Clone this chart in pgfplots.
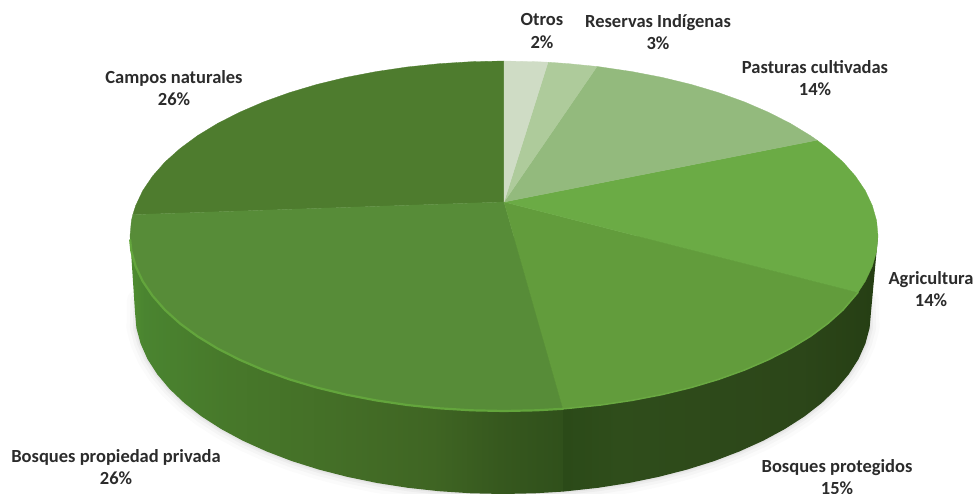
\documentclass[border=0pt]{standalone}
\usepackage{fontspec}
\setmainfont{Carlito}
\usepackage{pgfplots}
\usepackage{pgfplotstable}
\pgfplotsset{compat=1.18}

% Palette of the pie
\definecolor{cOtros}{HTML}{CFDCC5}
\definecolor{cReservas}{HTML}{AECB9B}
\definecolor{cPasturas}{HTML}{93BA7D}
\definecolor{cAgri}{HTML}{6BAB45}
\definecolor{cProt}{HTML}{629C3C}
\definecolor{cPriv}{HTML}{578C38}
\definecolor{cCampos}{HTML}{4E7C2E}
\definecolor{rimL}{HTML}{63A53C}
\definecolor{rimR}{HTML}{6AA942}
\definecolor{wA}{HTML}{4F8D30}
\definecolor{wB}{HTML}{4A8430}
\definecolor{wC}{HTML}{47782A}
\definecolor{wD}{HTML}{446F27}
\definecolor{wE}{HTML}{3F6523}
\definecolor{wF}{HTML}{36581E}
\definecolor{wG}{HTML}{30501B}
\definecolor{wH}{HTML}{2B4A18}
\definecolor{wI}{HTML}{2F4D1B}
\definecolor{wJ}{HTML}{2C4619}
\definecolor{wK}{HTML}{263F14}
\definecolor{labelink}{HTML}{2B2B2B}

% Side wall of the disc, lit from the left
\pgfdeclarehorizontalshading{wallleft}{100bp}{color(0bp)=(wA); color(25bp)=(wA); color(26.7bp)=(wB); color(36.5bp)=(wC); color(48.1bp)=(wD); color(60bp)=(wE); color(67.7bp)=(wF); color(75bp)=(wG); color(100bp)=(wG)}
\pgfdeclarehorizontalshading{wallright}{100bp}{color(0bp)=(wH); color(25bp)=(wH); color(34bp)=(wI); color(62.6bp)=(wJ); color(73.9bp)=(wK); color(100bp)=(wK)}

% Shares: Otros 2, Reservas 3, Pasturas 14, Agricultura 14, Protegidos 15, Privada 26, Campos 26
\pgfplotstableread{
x y
504 202
504 61
536.6 61.7
548 62.2
}\otros
\pgfplotstableread{
x y
504 202
548 62.2
568.9 63.7
597 66.5
}\reservas
\pgfplotstableread{
x y
504 202
597 66.5
600.8 67
631.9 71.6
662.1 77.4
691 84.4
718.5 92.6
744.4 101.9
768.5 112.3
790.5 123.5
810.4 135.6
817 140.2
}\pasturas
\pgfplotstableread{
x y
504 202
817 140.2
827.9 148.5
843 162
855.4 176.1
865.3 190.7
872.3 205.6
876.6 220.7
878 236
876.6 251.3
872.3 266.4
865.3 281.3
858 292.5
}\agricultura
\pgfplotstableread{
x y
504 202
858 292.5
843 310
827.9 323.5
810.4 336.4
790.5 348.5
768.5 359.7
744.4 370.1
718.5 379.4
691 387.6
662.1 394.6
631.9 400.4
600.8 405
568.9 408.3
563 408.8
}\protegidos
\pgfplotstableread{
x y
504 202
563 408.8
536.6 410.3
504 411
471.4 410.3
439.1 408.3
407.2 405
376.1 400.4
345.9 394.6
317 387.6
289.5 379.4
263.6 370.1
239.5 359.7
217.5 348.5
197.6 336.4
180.1 323.6
165 310
152.6 295.9
142.7 281.3
135.7 266.4
131.4 251.3
130 236
131.4 220.7
132.8 214.7
}\privada
\pgfplotstableread{
x y
504 202
132.8 214.7
135.7 205.6
142.7 190.7
152.6 176.1
165 162
180.1 148.5
197.6 135.6
217.5 123.5
239.5 112.3
263.6 101.9
289.5 92.6
317 84.4
345.9 77.4
376.1 71.6
407.2 67
439.1 63.7
471.4 61.7
504 61
}\campos

% Front edge of the top face
\pgfplotstableread{
x y
130.2 240
131.4 251.3
135.7 266.4
142.7 281.3
152.6 295.9
165 310
180.1 323.6
197.6 336.4
217.5 348.5
239.5 359.7
263.6 370.1
289.5 379.4
317 387.6
345.9 394.6
376.1 400.4
407.2 405
439.1 408.3
471.4 410.3
504 411
536.6 410.3
563 408.8
}\rimleft
\pgfplotstableread{
x y
563 408.8
568.9 408.3
600.8 405
631.9 400.4
662.1 394.6
691 387.6
718.5 379.4
744.4 370.1
768.5 359.7
790.5 348.5
810.4 336.4
827.9 323.5
843 310
858 292.5
}\rimright

% Base outline of the disc, used for the soft shadow
\pgfplotstableread{
x y
137 300
136.4 327.9
140.6 343.6
147.5 359.1
157.2 374.2
169.5 388.9
184.3 403
201.5 416.4
221.1 429
242.8 440.7
266.5 451.4
291.9 461.1
319 469.6
347.5 476.9
377.1 483
407.8 487.8
439.1 491.2
470.9 493.3
503 494
535.1 493.3
566.9 491.2
598.2 487.8
628.9 483
658.5 476.9
687 469.6
714.1 461.1
739.5 451.4
763.2 440.7
784.9 429
804.5 416.4
821.7 403
836.5 388.9
848.8 374.2
858.5 359.1
865.4 343.6
869.6 327.9
869 300
}\baseoutline

\begin{document}
\begin{tikzpicture}
\begin{axis}[
  x=1pt, y=1pt, scale only axis,
  xmin=0, xmax=977, ymin=0, ymax=494,
  y dir=reverse, hide axis,
  every axis plot/.append style={line join=round, line cap=round},
]
% Soft shadow under the disc
\addplot[draw=black, opacity=0.016, line width=20pt, no markers] table[x=x,y=y] {\baseoutline};
\addplot[draw=black, opacity=0.022, line width=13pt, no markers] table[x=x,y=y] {\baseoutline};
\addplot[draw=black, opacity=0.03, line width=7pt, no markers] table[x=x,y=y] {\baseoutline};
\addplot[draw=black, opacity=0.04, line width=3pt, no markers] table[x=x,y=y] {\baseoutline};

% Side wall, two pieces meeting under the wedge boundary
\addplot[shading=wallleft, draw=none, no markers] coordinates {
 (563,236) (563,491.6) (535.1,493.3) (503,494) (470.9,493.3) (439.1,491.2)
 (407.8,487.8) (377.1,483) (347.5,476.9) (319,469.6) (291.9,461.1) (266.5,451.4)
 (242.8,440.7) (221.1,429) (201.5,416.4) (184.3,403) (169.5,388.9) (157.2,374.2)
 (147.5,359.1) (140.6,343.6) (136.4,327.9) (135,312) (130,236)} --cycle;
\addplot[shading=wallright, draw=none, no markers] coordinates {
 (563,236) (563,491.6) (566.9,491.2) (598.2,487.8) (628.9,483) (658.5,476.9) (687,469.6)
 (714.1,461.1) (739.5,451.4) (763.2,440.7) (784.9,429) (804.5,416.4) (821.7,403)
 (836.5,388.9) (848.8,374.2) (858.5,359.1) (865.4,343.6) (869.6,327.9) (871,312) (878,236)} --cycle;

% Top face wedges
\addplot[fill=cCampos, draw=cCampos, line width=0.3pt, no markers] table[x=x,y=y] {\campos} --cycle;
\addplot[fill=cPriv, draw=cPriv, line width=0.3pt, no markers] table[x=x,y=y] {\privada} --cycle;
\addplot[fill=cProt, draw=cProt, line width=0.3pt, no markers] table[x=x,y=y] {\protegidos} --cycle;
\addplot[fill=cAgri, draw=cAgri, line width=0.3pt, no markers] table[x=x,y=y] {\agricultura} --cycle;
\addplot[fill=cPasturas, draw=cPasturas, line width=0.3pt, no markers] table[x=x,y=y] {\pasturas} --cycle;
\addplot[fill=cReservas, draw=cReservas, line width=0.3pt, no markers] table[x=x,y=y] {\reservas} --cycle;
\addplot[fill=cOtros, draw=cOtros, line width=0.3pt, no markers] table[x=x,y=y] {\otros} --cycle;

% Bevel along the front edge
\addplot[no markers, draw=rimL, line width=2.2pt] table[x=x,y=y] {\rimleft};
\addplot[no markers, draw=rimR, line width=1.5pt] table[x=x,y=y] {\rimright};

% Labels
\begin{scope}[every node/.style={font=\fontsize{18.5}{22.5}\selectfont\bfseries, text=labelink, align=center, inner sep=0pt}]
\node at (axis cs:542,31) {Otros\\2\%};
\node at (axis cs:658,32) {Reservas Indígenas\\3\%};
\node at (axis cs:815,78) {Pasturas cultivadas\\14\%};
\node at (axis cs:931,289) {Agricultura\\14\%};
\node at (axis cs:837,477) {Bosques protegidos\\15\%};
\node at (axis cs:174,88) {Campos naturales\\26\%};
\node at (axis cs:116,467) {Bosques propiedad privada\\26\%};
\end{scope}
\end{axis}
\pgfresetboundingbox
\path[use as bounding box] (0,0) rectangle (977pt,494pt);
\end{tikzpicture}
\end{document}
